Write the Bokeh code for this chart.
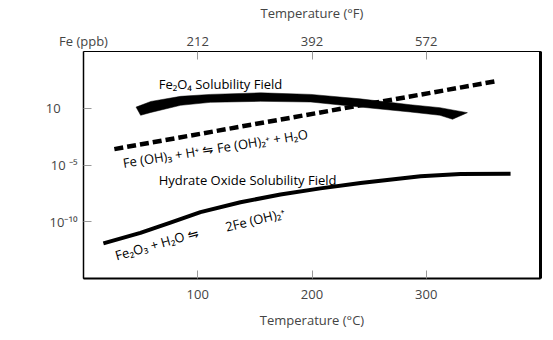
import math
from bokeh.plotting import figure
from bokeh.models import LinearAxis, FixedTicker, Range1d, Label
from bokeh.embed import file_html
from bokeh.resources import INLINE

# ---- data ----
# Fe3O4 solubility band (upper / lower edge), temperature in degC, y in decades
band_top_t = [46, 59, 85, 111, 155, 199, 242, 286, 312, 336]
band_top_y = [0.10, 0.60, 1.05, 1.22, 1.36, 1.22, 0.83, 0.31, 0.05, -0.39]
band_bot_t = [50, 59, 85, 111, 155, 199, 242, 286, 312, 323]
band_bot_y = [-0.62, -0.37, 0.26, 0.52, 0.61, 0.55, 0.11, -0.33, -0.62, -0.97]

# Fe(OH)3 equilibrium (dashed)
dash_t = [27, 362]
dash_y = [-3.6, 2.4]

# Hydrate oxide solubility curve
hyd_t = [17.4, 49.8, 76.1, 102.4, 137.4, 172.4, 207.4, 242.5, 295.0, 330.0, 373.8]
hyd_y = [-11.90, -10.98, -10.07, -9.15, -8.28, -7.60, -7.06, -6.59, -6.00, -5.80, -5.77]

c_ticks = [100, 200, 300]
f_ticks = [212, 392, 572]
y_ticks = [-10, -5, 0]
y_labels = ["10\u207b\u00b9\u2070", "10 \u207b\u2075", "10\u00a0\u00a0\u00a0\u00a0\u00a0"]
y_title = "Fe (ppb)"

FONT = "Open Sans"
FS = "13px"
GRAY = "#999999"

p = figure(width=553, height=340, x_range=Range1d(0, 400), y_range=Range1d(-15, 5),
           output_backend="svg", toolbar_location=None,
           min_border_left=83, min_border_right=13, min_border_top=49, min_border_bottom=62)
p.xgrid.visible = False
p.ygrid.visible = False
p.outline_line_color = "black"
p.outline_line_width = 1
p.background_fill_color = "white"
p.border_fill_color = "white"

# bottom axis (degC)
xa = p.xaxis[0]
xa.ticker = FixedTicker(ticks=c_ticks)
xa.axis_label = "Temperature (\u00b0C)"
xa.axis_label_text_font = FONT
xa.axis_label_text_font_size = FS
xa.axis_label_text_font_style = "normal"
xa.axis_label_standoff = 9
xa.major_label_text_font = FONT
xa.major_label_text_font_size = FS
xa.major_label_standoff = 11
xa.major_tick_in = 8
xa.major_tick_out = 0
xa.minor_tick_in = 0
xa.minor_tick_out = 0
xa.major_tick_line_color = GRAY
xa.axis_line_width = 2
xa.axis_line_color = "black"

# left axis
ya = p.yaxis[0]
ya.ticker = FixedTicker(ticks=y_ticks)
ya.major_label_overrides = {t: l for t, l in zip(y_ticks, y_labels)}
ya.major_label_text_font = FONT
ya.major_label_text_font_size = FS
ya.major_label_standoff = 6
ya.major_tick_in = 8
ya.major_tick_out = 0
ya.minor_tick_in = 0
ya.minor_tick_out = 0
ya.major_tick_line_color = GRAY
ya.axis_line_width = 1.5
ya.axis_line_color = "black"

# top axis (degF); the y-quantity title sits at the left corner (32 F = 0 C)
p.extra_x_ranges = {"F": Range1d(32, 752)}
ta = LinearAxis(x_range_name="F", ticker=FixedTicker(ticks=[32] + f_ticks),
                major_label_overrides={32: y_title},
                axis_label="Temperature (\u00b0F)",
                axis_label_text_font=FONT, axis_label_text_font_size=FS,
                axis_label_text_font_style="normal", axis_label_standoff=7,
                major_label_text_font=FONT, major_label_text_font_size=FS,
                major_label_standoff=2, major_tick_in=8, major_tick_out=0,
                minor_tick_in=0, minor_tick_out=0, major_tick_line_color=GRAY,
                axis_line_color="black", axis_line_width=1)
p.add_layout(ta, "above")

# right border (thick)
ra = LinearAxis(ticker=FixedTicker(ticks=[]), major_tick_in=0, major_tick_out=0,
                minor_tick_in=0, minor_tick_out=0, axis_line_width=3,
                axis_line_color="black")
p.add_layout(ra, "right")

# ---- marks ----
p.patch(band_top_t + band_bot_t[::-1], band_top_y + band_bot_y[::-1],
        fill_color="black", line_color="black", line_width=0.5)
p.line(dash_t, dash_y, line_color="black", line_width=4.5, line_dash="9 4")
p.line(hyd_t, hyd_y, line_color="black", line_width=4, line_join="round")


def txt(x, y, s, ang=0.0):
    p.add_layout(Label(x=x, y=y, text=s, angle=ang, text_font=FONT, text_font_size=FS,
                       text_color="black", text_baseline="alphabetic", text_align="left"))


txt(65.8, 2.14, "Fe\u2082O\u2084  Solubility Field")
txt(34.5, -4.82, "Fe (OH)\u2083 + H\u207a \u21cb Fe (OH)\u2082\u207a + H\u2082O", math.radians(9))
txt(65.8, -6.35, "Hydrate Oxide Solubility Field")
txt(27.9, -12.99, "Fe\u2082O\u2083 + H\u2082O  \u21cb", math.radians(16))
txt(124.3, -10.46, "2Fe (OH)\u2082\u207a", math.radians(14))

open("out.html", "w").write(file_html(p, INLINE))
